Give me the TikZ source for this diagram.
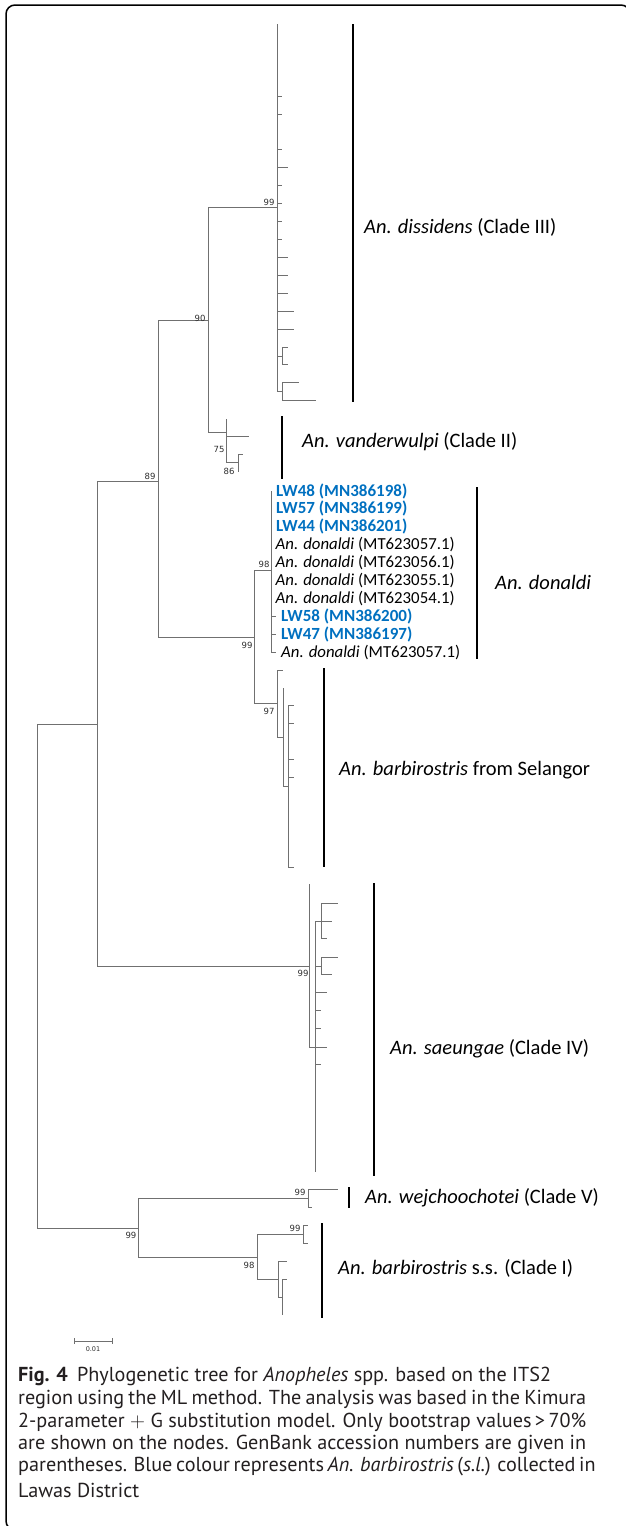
\documentclass[tikz,border=0pt]{standalone}
\usepackage{fontspec}
\setmainfont{Carlito}
\newfontfamily\labfont{Carlito}
\newfontfamily\bsfont{DejaVu Sans}
\newfontfamily\capfont{PT Sans}
\definecolor{treegray}{RGB}{112,112,112}
\definecolor{lwblue}{RGB}{0,112,192}
\definecolor{bsgray}{RGB}{45,45,45}
\definecolor{capgray}{RGB}{35,31,32}
\begin{document}
\begin{tikzpicture}[x=1pt,y=-1pt,
  br/.style={draw=treegray,line width=0.95pt},
  cladebar/.style={draw=black,line width=2.4pt},
  bs/.style={font=\bsfont\fontsize{8.5}{9}\selectfont,text=bsgray,inner sep=0pt},
  clade/.style={font=\labfont\fontsize{20.5}{23}\selectfont,anchor=west,inner sep=0pt,text=black},
  taxon/.style={font=\labfont\fontsize{16.8}{18}\selectfont,anchor=west,inner sep=0pt,text=black},
  lw/.style={font=\labfont\bfseries\fontsize{17}{18}\selectfont,anchor=west,inner sep=0pt,text=lwblue},
  capline/.style={font=\capfont\fontsize{20.2}{23}\selectfont,anchor=west,inner sep=0pt,text=capgray}]
\useasboundingbox (0,0) rectangle (626,1526);
% frame
\begin{scope}
\clip (0,0) rectangle (626,1526);
\draw[line width=1.5pt,rounded corners=9pt] (6,5) rectangle (630,1530);
\end{scope}
% internal nodes
\coordinate (r) at (37,976);
\coordinate (a) at (97,724);
\coordinate (b) at (158,481);
\coordinate (c) at (208,320);
\coordinate (dis) at (277,207);
\coordinate (dA) at (282,356);
\coordinate (dB) at (282,391);
\coordinate (v) at (226,432);
\coordinate (v86) at (238,462);
\coordinate (d) at (254,637);
\coordinate (don) at (271,570);
\coordinate (sel) at (277,703);
\coordinate (sA) at (283,737);
\coordinate (sB) at (288,786);
\coordinate (s) at (309,966);
\coordinate (s2) at (315,1047);
\coordinate (s3) at (321,921);
\coordinate (s4) at (321,966);
\coordinate (w) at (138,1228);
\coordinate (wj) at (308,1198);
\coordinate (bsn) at (257,1257);
\coordinate (bsA) at (303,1234);
\coordinate (bsB) at (278,1279);
\coordinate (bsC) at (282,1297);
% backbone
\draw[br] (r) |- (a);
\draw[br] (r) |- (w);
\draw[br] (a) |- (b);
\draw[br] (a) |- (s);
\draw[br] (b) |- (c);
\draw[br] (b) |- (d);
\draw[br] (c) |- (dis);
\draw[br] (c) |- (v);
% dissidens
\foreach \yy/\xx [count=\i] in {24/277,96/282,114/282,149/282,167/288,185/282,203/282,221/282,239/282,257/288,275/288,293/288,311/294,329/294}{
  \coordinate (dl\i) at (\xx,\yy);
  \draw[br] (dis) |- (dl\i);
}
\draw[br] (dis) |- (dA);
\draw[br] (dis) |- (dB);
\coordinate (dA1) at (288,347); \coordinate (dA2) at (288,364);
\coordinate (dB1) at (299,382); \coordinate (dB2) at (316,400);
\draw[br] (dA) |- (dA1); \draw[br] (dA) |- (dA2);
\draw[br] (dB) |- (dB1); \draw[br] (dB) |- (dB2);
% vanderwulpi
\coordinate (v1) at (226,419); \coordinate (v2) at (249,436);
\draw[br] (v) |- (v1); \draw[br] (v) |- (v2); \draw[br] (v) |- (v86);
\coordinate (v3) at (243,454); \coordinate (v4) at (238,472);
\draw[br] (v86) |- (v3); \draw[br] (v86) |- (v4);
% donaldi
\draw[br] (d) |- (don);
\draw[br] (d) |- (sel);
\foreach \k/\xx in {0/271,1/271,2/271,3/271,4/271,5/271,6/271,7/276,8/276,9/276}{
  \coordinate (dn\k) at (\xx,491+17.9*\k);
  \draw[br] (don) |- (dn\k);
}
\node[lw] (t0) at (276,491) {LW48 (MN386198)};
\node[lw] (t1) at (276,508.9) {LW57 (MN386199)};
\node[lw] (t2) at (276,526.8) {LW44 (MN386201)};
\node[taxon] (t3) at (275.5,544.7) {\textit{An. donaldi} (MT623057.1)};
\node[taxon] (t4) at (275.5,562.6) {\textit{An. donaldi} (MT623056.1)};
\node[taxon] (t5) at (275.5,580.5) {\textit{An. donaldi} (MT623055.1)};
\node[taxon] (t6) at (275.5,598.4) {\textit{An. donaldi} (MT623054.1)};
\node[lw] (t7) at (281,616.3) {LW58 (MN386200)};
\node[lw] (t8) at (281,634.2) {LW47 (MN386197)};
\node[taxon] (t9) at (281,652.1) {\textit{An. donaldi} (MT623057.1)};
% selangor
\coordinate (se1) at (283,670);
\draw[br] (sel) |- (se1); \draw[br] (sel) |- (sA);
\coordinate (se2) at (283,688);
\draw[br] (sA) |- (se2); \draw[br] (sA) |- (sB);
\foreach \yy/\xx [count=\i] in {705/294,723/294,759/294,777/294,867/294}{
  \coordinate (sb\i) at (\xx,\yy);
  \draw[br] (sB) |- (sb\i);
}
% saeungae
\coordinate (sa0) at (309,884);
\draw[br] (s) |- (sa0); \draw[br] (s) |- (s2);
\draw[br] (s2) |- (s3); \draw[br] (s2) |- (s4);
\foreach \yy/\xx [count=\i] in {992/327,1010/321,1028/321,1047/327,1064/321,1172/315}{
  \coordinate (sl\i) at (\xx,\yy);
  \draw[br] (s2) |- (sl\i);
}
\coordinate (s31) at (338,903); \coordinate (s32) at (332,921); \coordinate (s33) at (327,938);
\draw[br] (s3) |- (s31); \draw[br] (s3) |- (s32); \draw[br] (s3) |- (s33);
\coordinate (s41) at (338,957); \coordinate (s42) at (332,974);
\draw[br] (s4) |- (s41); \draw[br] (s4) |- (s42);
% wejchoochotei and barbirostris s.s.
\draw[br] (w) |- (wj); \draw[br] (w) |- (bsn);
\coordinate (wj1) at (338,1189); \coordinate (wj2) at (312,1207);
\draw[br] (wj) |- (wj1); \draw[br] (wj) |- (wj2);
\draw[br] (bsn) |- (bsA); \draw[br] (bsn) |- (bsB);
\coordinate (bA1) at (308,1225); \coordinate (bA2) at (308,1243);
\draw[br] (bsA) |- (bA1); \draw[br] (bsA) |- (bA2);
\coordinate (bB1) at (287,1261);
\draw[br] (bsB) |- (bB1); \draw[br] (bsB) |- (bsC);
\coordinate (bC1) at (287,1279); \coordinate (bC2) at (282,1315);
\draw[br] (bsC) |- (bC1); \draw[br] (bsC) |- (bC2);
% bootstrap values
\node[bs] (b1) at (269,202) {99};
\node[bs] (b2) at (200,318) {90};
\node[bs] (b3) at (150,476) {89};
\node[bs] (b4) at (219,449) {75};
\node[bs] (b5) at (229,471) {86};
\node[bs] (b6) at (264,564) {98};
\node[bs] (b7) at (247,645) {99};
\node[bs] (b8) at (269,711) {97};
\node[bs] (b9) at (303,973) {99};
\node[bs] (b10) at (300,1192) {99};
\node[bs] (b11) at (131,1235) {99};
\node[bs] (b12) at (295,1228) {99};
\node[bs] (b13) at (249,1265) {98};
% clade bars
\coordinate (k1a) at (353,24); \coordinate (k1b) at (353,402);
\coordinate (k2a) at (282,416); \coordinate (k2b) at (282,479);
\coordinate (k3a) at (477,487); \coordinate (k3b) at (477,659);
\coordinate (k4a) at (324,668); \coordinate (k4b) at (324,867);
\coordinate (k5a) at (374,883); \coordinate (k5b) at (374,1176);
\coordinate (k6a) at (349,1187); \coordinate (k6b) at (349,1208);
\coordinate (k7a) at (322,1223); \coordinate (k7b) at (322,1318);
\draw[cladebar] (k1a) -- (k1b);
\draw[cladebar] (k2a) -- (k2b);
\draw[cladebar] (k3a) -- (k3b);
\draw[cladebar] (k4a) -- (k4b);
\draw[cladebar] (k5a) -- (k5b);
\draw[cladebar] (k6a) -- (k6b);
\draw[cladebar] (k7a) -- (k7b);
% clade labels
\node[clade] (L1) at (364,227) {\textit{An. dissidens} (Clade III)};
\node[clade] (L2) at (302,442) {\textit{An. vanderwulpi} (Clade II)};
\node[clade] (L3) at (495,582) {\textit{An. donaldi}};
\node[clade] (L4) at (339,770) {\textit{An. barbirostris} from Selangor};
\node[clade] (L5) at (390,1049) {\textit{An. saeungae} (Clade IV)};
\node[clade] (L6) at (365,1198) {\textit{An. wejchoochotei} (Clade V)};
\node[clade] (L7) at (338,1268) {\textit{An. barbirostris} s.s. (Clade I)};
% scale bar
\coordinate (sc1) at (74,1341); \coordinate (sc2) at (112,1341);
\draw[treegray,line width=0.9pt] (sc1) -- (sc2);
\draw[treegray,line width=0.9pt] (74,1338) -- (74,1344);
\draw[treegray,line width=0.9pt] (112,1338) -- (112,1344);
\node[font=\bsfont\fontsize{6.5}{7}\selectfont,text=bsgray,inner sep=0pt] (sclab) at (93,1349) {0.01};
% caption
\node[capline] (c1) at (18,1376) {\textbf{Fig. 4}\hspace{0.45em}Phylogenetic tree for \textit{Anopheles} spp. based on the ITS2};
\node[capline] (c2) at (18,1399) {\makebox[568pt][s]{region using the ML method. The analysis was based in the Kimura}};
\node[capline] (c3) at (18,1422) {\makebox[568pt][s]{2-parameter $+$ G substitution model. Only bootstrap values\,>\,70\%}};
\node[capline] (c4) at (18,1444) {\makebox[568pt][s]{are shown on the nodes. GenBank accession numbers are given in}};
\node[capline] (c5) at (18,1467) {\makebox[568pt][s]{parentheses. Blue colour represents \textit{An. barbirostris} (\textit{s.l.}) collected in}};
\node[capline] (c6) at (18,1490) {Lawas District};
\end{tikzpicture}
\end{document}
